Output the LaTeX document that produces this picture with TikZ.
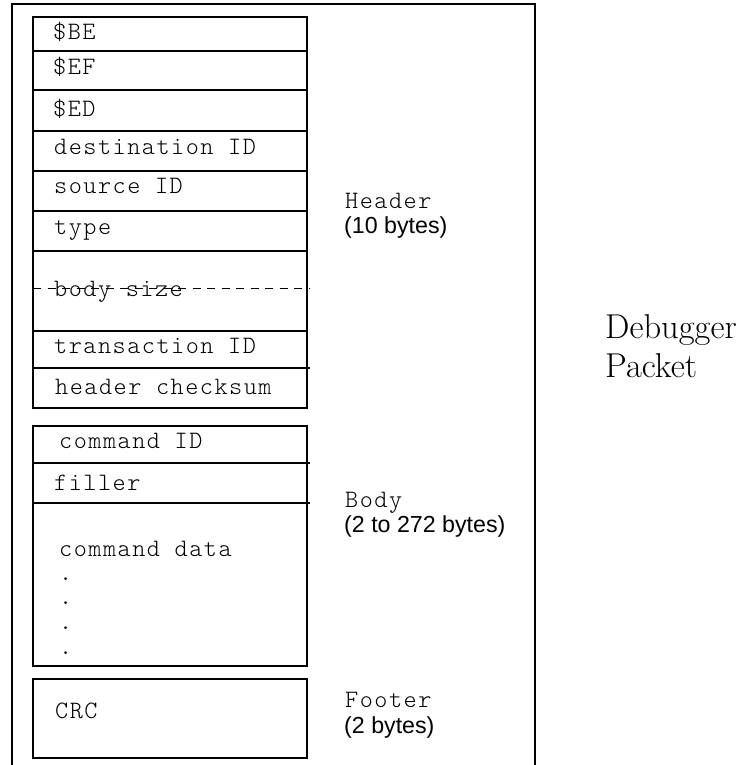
\documentclass[tikz,border=0pt]{standalone}
\usepackage{fontspec}
\newfontfamily\monof[LetterSpace=6]{Latin Modern Mono Light}
\newfontfamily\sansf{Liberation Sans}
\begin{document}
\begin{tikzpicture}[x=1pt,y=-1pt,
  box/.style={line width=2pt},
  sep/.style={line width=1.8pt},
  frame/.style={line width=1.4pt},
  dashsep/.style={line width=1pt,dash pattern=on 8pt off 6.5pt},
  field/.style={anchor=base west,inner sep=0pt,font=\monof\fontsize{25}{25}\selectfont},
  lbl/.style={anchor=base west,inner sep=0pt,font=\monof\fontsize{25}{25}\selectfont},
  lbls/.style={anchor=base west,inner sep=0pt,font=\sansf\fontsize{23.2}{25}\selectfont},
  title/.style={anchor=base west,inner sep=0pt,font=\fontsize{34.5}{39}\selectfont}]
\useasboundingbox (0,0) rectangle (748,765);

% outer frame (open at the bottom)
\draw[frame] (12,767) -- (12,4) -- (535,4) -- (535,767);

% header stack
\draw[box] (33,17) rectangle (307,408);
\foreach \yy in {51,90,131,171,211,251,331}
  \draw[sep] (33,\yy) -- (307,\yy);
\draw[sep] (33,368) -- (310,368);
\draw[dashsep] (33,288) -- (310,288);

\node[field] (be)   at (53,39.5) {\$BE};
\node[field] (ef)   at (53,75)   {\$EF};
\node[field] (ed)   at (53,116.5){\$ED};
\node[field] (dst)  at (54,154)  {destination ID};
\node[field] (src)  at (54,193)  {source ID};
\node[field] (typ)  at (54,234)  {type};
\node[field] (bsz)  at (54,296)  {body size};
\node[field] (tid)  at (54,353)  {transaction ID};
\node[field] (hck)  at (55,394)  {header checksum};

% body stack
\draw[box] (33,426) rectangle (307,666);
\draw[sep] (33,463) -- (310,463);
\draw[sep] (33,503) -- (310,503);

\node[field] (cid)  at (59,448) {command ID};
\node[field] (fil)  at (54,490) {filler};
\node[field] (cdat) at (59,556) {command data};
\node[field] (d1)   at (59,580) {.};
\node[field] (d2)   at (59,604) {.};
\node[field] (d3)   at (59,629) {.};
\node[field] (d4)   at (59,654) {.};

% footer
\draw[box] (33,679) rectangle (307,758);
\node[field] (crc) at (55,718) {CRC};

% section labels
\node[lbl]  (hl)  at (345,208) {Header};
\node[lbls] (hb)  at (344,233) {(10 bytes)};
\node[lbl]  (bl)  at (345,507) {Body};
\node[lbls] (bb)  at (344,532) {(2 to 272 bytes)};
\node[lbl]  (fl)  at (345,707) {Footer};
\node[lbls] (fb)  at (344,733) {(2 bytes)};

% title
\node[title] (dbg) at (605,338) {Debugger};
\node[title] (pkt) at (605,377) {Packet};
\end{tikzpicture}
\end{document}
